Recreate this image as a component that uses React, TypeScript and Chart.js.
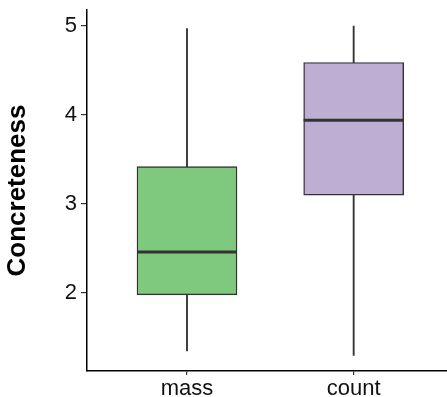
import React, { useEffect, useRef } from "react";
import { Chart, registerables } from "chart.js";

Chart.register(...registerables);

const categories = ["mass", "count"];
const whiskerLow = [1.35, 1.3];
const q1 = [1.98, 3.1];
const median = [2.46, 3.94];
const q3 = [3.42, 4.59];
const whiskerHigh = [4.97, 5.0];
const boxColors = ["#7FC97F", "#BEAED4"];
const yTicks = [2, 3, 4, 5];
const yMin = 1.124;
const yMax = 5.18;

const medianPlugin = {
  id: "medianLines",
  afterDatasetsDraw(chart: any) {
    const meta = chart.getDatasetMeta(1);
    const yScale = chart.scales.y;
    const ctx = chart.ctx;
    ctx.save();
    ctx.strokeStyle = "#333333";
    ctx.lineWidth = 3;
    meta.data.forEach((el: any, i: number) => {
      const y = yScale.getPixelForValue(median[i]);
      const half = el.width / 2;
      ctx.beginPath();
      ctx.moveTo(el.x - half, y);
      ctx.lineTo(el.x + half, y);
      ctx.stroke();
    });
    ctx.restore();
  },
};

export default function App() {
  const ref = useRef<HTMLCanvasElement | null>(null);
  useEffect(() => {
    if (!ref.current) return;
    const chart = new Chart(ref.current, {
      type: "bar",
      data: {
        datasets: [
          {
            label: "whiskers",
            data: categories.map((_, i) => ({ x: i + 1, y: [whiskerLow[i], whiskerHigh[i]] })) as any,
            backgroundColor: "#333333",
            borderWidth: 0,
            barThickness: 1.2,
            order: 2,
            grouped: false,
          },
          {
            label: "box",
            data: categories.map((_, i) => ({ x: i + 1, y: [q1[i], q3[i]] })) as any,
            backgroundColor: boxColors,
            borderColor: "#333333",
            borderWidth: 1.4,
            borderSkipped: false,
            barThickness: 100,
            order: 1,
            grouped: false,
          },
        ],
      },
      options: {
        animation: false,
        responsive: false,
        layout: { padding: { top: 10, left: 0, right: 0, bottom: 0 } },
        plugins: { legend: { display: false }, tooltip: { enabled: false } },
        scales: {
          x: {
            type: "linear",
            min: 0.4,
            max: 2.56,
            offset: false,
            afterBuildTicks: (s: any) => {
              s.ticks = categories.map((_, i) => ({ value: i + 1 }));
            },
            afterFit: (s: any) => {
              s.height = 26;
              s.paddingLeft = 0;
              s.paddingRight = 0;
            },
            ticks: {
              callback: (v: any) => categories[Math.round(Number(v)) - 1] ?? "",
              font: { family: "Arial, 'Liberation Sans', sans-serif", size: 22 },
              color: "#111111",
              padding: 1,
              maxRotation: 0,
              autoSkip: false,
            },
            grid: { drawOnChartArea: false, drawTicks: true, tickLength: 4, color: "#333333", lineWidth: 1.2, offset: false },
            border: { display: true, color: "#000000", width: 1.5 },
          },
          y: {
            type: "linear",
            min: yMin,
            max: yMax,
            afterBuildTicks: (s: any) => {
              s.ticks = yTicks.map((v) => ({ value: v }));
            },
            afterFit: (s: any) => {
              s.width = 87;
              s.paddingTop = 0;
              s.paddingBottom = 0;
            },
            ticks: {
              font: { family: "Arial, 'Liberation Sans', sans-serif", size: 22 },
              color: "#111111",
              padding: 4,
            },
            grid: { drawOnChartArea: false, drawTicks: true, tickLength: 6, color: "#333333", lineWidth: 1.2 },
            border: { display: true, color: "#000000", width: 1.5 },
            title: {
              display: true,
              text: "Concreteness",
              font: { family: "Arial, 'Liberation Sans', sans-serif", size: 26, weight: "bold", lineHeight: 1 },
              color: "#000000",
              padding: { top: 5, bottom: 0 },
            },
          },
        },
      },
      plugins: [medianPlugin],
    });
    return () => chart.destroy();
  }, []);
  return (
    <div style={{ position: "fixed", left: 0, top: 0, width: 447, height: 397, background: "#fff" }}>
      <canvas ref={ref} width={447} height={397} style={{ display: "block" }} />
    </div>
  );
}
